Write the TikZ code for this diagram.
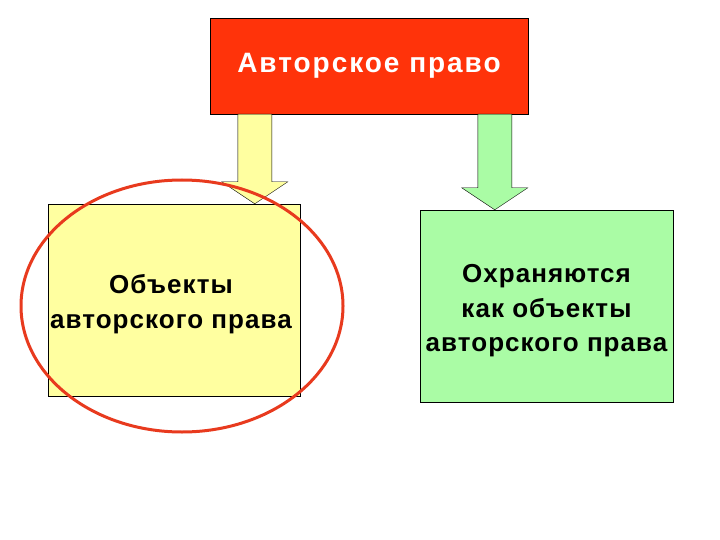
\documentclass[tikz,border=0pt]{standalone}
\usepackage{fontspec}
\setmainfont{Liberation Sans}
\usepackage{xcolor}
\usetikzlibrary{calc}
\definecolor{titlered}{RGB}{255,51,10}
\definecolor{objyellow}{RGB}{255,255,160}
\definecolor{protgreen}{RGB}{170,252,165}
\definecolor{ringred}{RGB}{232,58,30}

% block arrow from a point down to a target point (same x)
\newcommand{\fatarrow}[3]{%
  \draw[fill=#1] let \p1=(#2), \p2=(#3) in
    (\x1-17,\y1) -- (\x1-17,\y2+22) -- (\x1-33,\y2+22) -- (\x1,\y2)
    -- (\x1+33,\y2+22) -- (\x1+17,\y2+22) -- (\x1+17,\y1) -- cycle;}

\begin{document}
\begin{tikzpicture}[
    x=1pt, y=-1pt,
    box/.style={rectangle, draw, minimum width=252pt, minimum height=192pt},
    boxtext/.style={align=center, font=\fontsize{26}{34.5}\selectfont\bfseries\addfontfeature{LetterSpace=4}},
    titlebox/.style={rectangle, draw, fill=titlered, text=white, minimum width=318pt, minimum height=96pt, font=\fontsize{28}{34}\selectfont\bfseries\addfontfeature{LetterSpace=7}}
]
\useasboundingbox (0,0) rectangle (720,540);

% Title
\node[titlebox] (title) at (369,66) {Авторское право};

% Boxes
\node[box, fill=objyellow] (objects) at (174,300) {};
\node[box, fill=protgreen, minimum width=253pt] (protected) at (546.5,306) {};

% Box texts
\node[boxtext] (objects-text) at ($(objects)+(-3,4)$) {Объекты\\авторского права};
\node[boxtext] (protected-text) at ($(protected)+(0,5)$) {Охраняются\\как объекты\\авторского права};

% Arrows
\coordinate (s1) at ($(title.south west)+(45,0)$);
\coordinate (s2) at ($(title.south west)+(285,0)$);
\fatarrow{objyellow}{s1}{s1 |- objects.north}
\fatarrow{protgreen}{s2}{s2 |- protected.north}

% Highlight
\draw[ringred, line width=3pt] (objects.center) ++(8,6) ellipse (161 and 126);

\end{tikzpicture}
\end{document}
